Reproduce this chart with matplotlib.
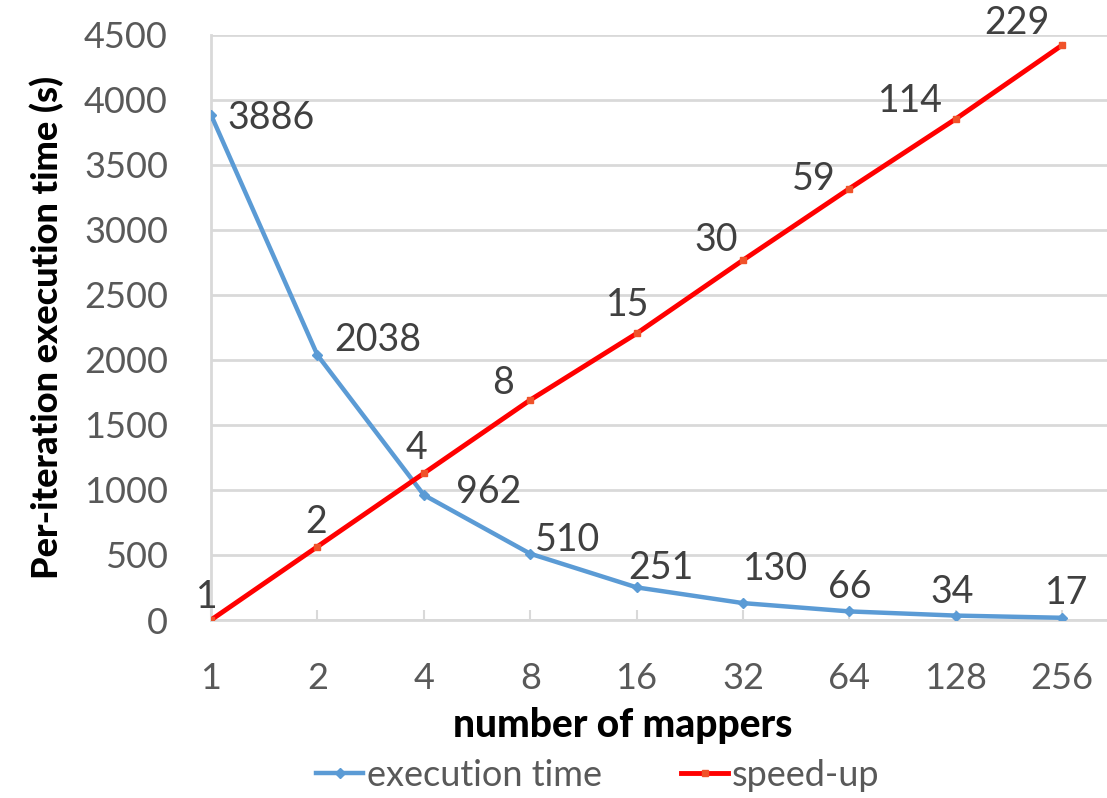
import matplotlib
matplotlib.use("Agg")
import matplotlib.pyplot as plt
import numpy as np

plt.rcParams['font.family'] = ['Lato', 'DejaVu Sans']

mappers = ['1', '2', '4', '8', '16', '32', '64', '128', '256']
exec_time = [3886, 2038, 962, 510, 251, 130, 66, 34, 17]
speed_up = [1, 2, 4, 8, 15, 30, 59, 114, 229]

# label offsets in pixels (dx, dy)
exec_offsets = [(16, -3), (17, 15), (32, 3), (5, 14), (-8, 19), (0, 34), (-21, 24), (-25, 24), (-17, 25)]
speed_offsets = [(-4, 23), (-1, 25), (-7, 25), (-27, 17), (-9, 28), (-27, 20), (-36, 10), (-45, 18), (-45, 22)]

blue = '#5B9BD5'
red = '#FF0000'
grid_col = '#D9D9D9'
label_col = '#404040'
tick_col = '#595959'

fig = plt.figure(figsize=(11.07, 7.98), dpi=100)
ax = fig.add_axes([211 / 1107, 1 - 620 / 798, 1 - 211 / 1107, (620 - 35) / 798])
x = np.arange(len(mappers))

l1, = ax.plot(x, exec_time, color=blue, lw=3.2, marker='D', ms=5, label='execution time', zorder=3)
ax.set_xlim(0, (1107 - 211) / 106.4)
ax.set_ylim(0, 4500)
ax.set_yticks(np.arange(0, 4501, 500))
ax.set_xticks(x)
ax.set_xticklabels(mappers)
ax.grid(axis='y', color=grid_col, lw=2)
ax.set_axisbelow(True)
for s in ['top', 'right']:
    ax.spines[s].set_visible(False)
for s in ['left', 'bottom']:
    ax.spines[s].set_color(grid_col)
    ax.spines[s].set_linewidth(2)
ax.tick_params(axis='y', length=0, pad=31, labelsize=26, labelcolor=tick_col)
ax.tick_params(axis='x', direction='in', length=7, width=1.5, color=grid_col, pad=30,
               labelsize=26, labelcolor=tick_col)
ax.set_xlabel('number of mappers', fontsize=28, fontweight='black')
ax.xaxis.set_label_coords(0.46, -0.148)
ax.set_ylabel('Per-iteration execution time (s)', fontsize=26, fontweight='black', labelpad=14)

for xi, v, (dx, dy) in zip(x, exec_time, exec_offsets):
    ax.annotate(str(v), (xi, v), textcoords='offset pixels', xytext=(dx, dy),
                ha='left', va='center', fontsize=27, color=label_col, zorder=5)

ax2 = ax.twinx()
l2, = ax2.plot(x, speed_up, color=red, lw=3.5, marker='s', ms=5, mfc='#F0522A', mec='#F0522A',
               label='speed-up', zorder=4)
ax2.set_yscale('log', base=2)
ax2.set_ylim(1, 252)
ax2.set_yticks([])
ax2.minorticks_off()
for s in ax2.spines.values():
    s.set_visible(False)

for xi, v, (dx, dy) in zip(x, speed_up, speed_offsets):
    ax2.annotate(str(v), (xi, v), textcoords='offset pixels', xytext=(dx, dy),
                 ha='center', va='center', fontsize=27, color=label_col, zorder=5)

fig.legend(handles=[l1, l2], loc='center', bbox_to_anchor=(0.54, 1 - 775 / 798), ncol=2,
           frameon=False, fontsize=26, labelcolor=tick_col, handlelength=1.3,
           handletextpad=0.1, columnspacing=2.2)

fig.savefig('out.png', dpi=100)
